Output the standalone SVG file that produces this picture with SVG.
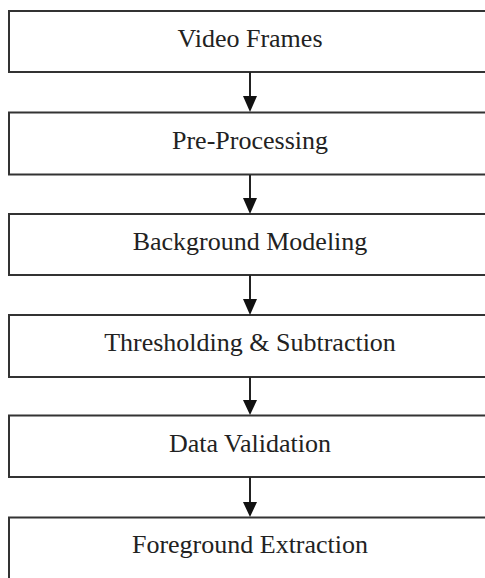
<svg xmlns="http://www.w3.org/2000/svg" width="485" height="578" viewBox="0 0 485 578">
<style>
.box{fill:#fff;stroke:#333;stroke-width:2}
.lbl{font-family:"Liberation Serif","Times New Roman",serif;font-size:26px;fill:#222;text-anchor:middle}
.con{stroke:#222;stroke-width:2;fill:none}
.head{fill:#111}
</style>
<rect width="485" height="578" fill="#fff"/>
<g id="n1"><rect class="box" x="9" y="11" width="490" height="61"/><text class="lbl" x="250" y="47">Video Frames</text></g>
<g id="n2"><rect class="box" x="9" y="112.5" width="490" height="62"/><text class="lbl" x="250" y="149">Pre-Processing</text></g>
<g id="n3"><rect class="box" x="9" y="214" width="490" height="61"/><text class="lbl" x="250" y="250">Background Modeling</text></g>
<g id="n4"><rect class="box" x="9" y="315" width="490" height="62"/><text class="lbl" x="250" y="351">Thresholding &amp; Subtraction</text></g>
<g id="n5"><rect class="box" x="9" y="415.5" width="490" height="61.5"/><text class="lbl" x="250" y="452">Data Validation</text></g>
<g id="n6"><rect class="box" x="9" y="517.5" width="490" height="80"/><text class="lbl" x="250" y="553">Foreground Extraction</text></g>
<g id="connectors">
<line class="con" x1="250" y1="72" x2="250" y2="96"/><path class="head" d="M243,96 L257,96 L250,112 Z"/>
<line class="con" x1="250" y1="175" x2="250" y2="198"/><path class="head" d="M243,198 L257,198 L250,214 Z"/>
<line class="con" x1="250" y1="275" x2="250" y2="299"/><path class="head" d="M243,299 L257,299 L250,315 Z"/>
<line class="con" x1="250" y1="377" x2="250" y2="400"/><path class="head" d="M243,400 L257,400 L250,415 Z"/>
<line class="con" x1="250" y1="477" x2="250" y2="502"/><path class="head" d="M243,502 L257,502 L250,517 Z"/>
</g>
</svg>
